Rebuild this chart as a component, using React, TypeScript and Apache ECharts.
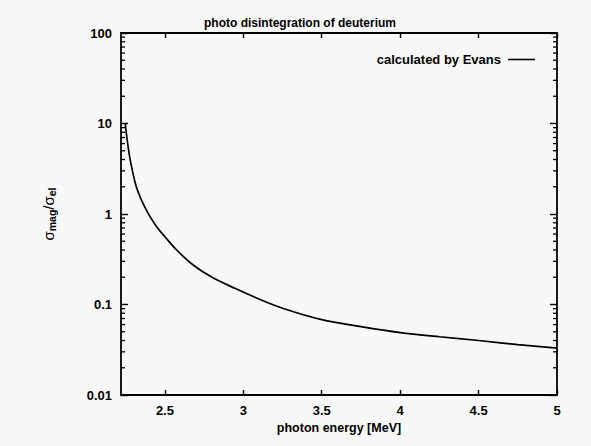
import React, { useEffect, useRef } from "react";
import * as echarts from "echarts";

const photonEnergy = [2.247, 2.254, 2.265, 2.275, 2.296, 2.317, 2.349, 2.381, 2.413, 2.456, 2.5, 2.575, 2.68, 2.8, 2.95, 3.1, 3.25, 3.5, 3.75, 4.0, 4.25, 4.5, 4.75, 5.0];
const ratioValues = [10.1, 7.8, 5.6, 4.3, 2.83, 2.01, 1.44, 1.11, 0.89, 0.69, 0.56, 0.4, 0.273, 0.2, 0.15, 0.115, 0.091, 0.068, 0.057, 0.049, 0.044, 0.04, 0.036, 0.033];
const xTickValues = [2.5, 3, 3.5, 4, 4.5, 5];
const yTickValues = [0.01, 0.1, 1, 10, 100];
const minorMultipliers = [2, 3, 4, 5, 6, 7, 8, 9];
const decades = [0.01, 0.1, 1, 10];

const X_MIN = 2.22;
const X_MAX = 5;
const FONT = '"Liberation Sans", Arial, Helvetica, sans-serif';

export default function App() {
  const ref = useRef<HTMLDivElement>(null);
  useEffect(() => {
    if (!ref.current) return;
    const chart = echarts.init(ref.current, null, { renderer: "svg" });
    const minorTicks: number[][] = [];
    decades.forEach((d) => minorMultipliers.forEach((m) => minorTicks.push([X_MIN, +(d * m).toPrecision(3)])));
    const lineData = photonEnergy.map((x, i) => [x, ratioValues[i]]);
    const axisLine = { show: true, lineStyle: { color: "#000", width: 1.8 } };
    const txt = { color: "#000", fontFamily: FONT, fontWeight: "bold" as const };
    chart.setOption({
      animation: false,
      backgroundColor: "#f8f8f8",
      textStyle: { fontFamily: FONT },
      title: {
        text: "photo disintegration of deuterium",
        left: 199,
        top: 12,
        textStyle: { ...txt, fontSize: 12 },
      },
      legend: {
        data: [{ name: "calculated by Evans", icon: "rect" }],
        right: 51,
        top: 48,
        align: "right",
        itemWidth: 27,
        itemHeight: 1.6,
        itemGap: 8,
        textStyle: { ...txt, fontSize: 13, padding: [0, 2, 0, 0] },
      },
      grid: { left: 121, right: 34, top: 33, bottom: 51, containLabel: false },
      xAxis: [
        {
          type: "value",
          min: X_MIN,
          max: X_MAX,
          name: "photon energy [MeV]",
          nameLocation: "middle",
          nameGap: 25,
          nameTextStyle: { ...txt, fontSize: 12.5 },
          axisLine,
          axisTick: { show: true, inside: true, length: 5, customValues: xTickValues, lineStyle: { color: "#000", width: 1.4 } },
          axisLabel: { ...txt, customValues: xTickValues, fontSize: 13, margin: 9 },
          splitLine: { show: false },
        },
        {
          type: "value",
          min: X_MIN,
          max: X_MAX,
          position: "top",
          axisLine,
          axisTick: { show: true, inside: true, length: 5, customValues: xTickValues, lineStyle: { color: "#000", width: 1.4 } },
          axisLabel: { show: false },
          splitLine: { show: false },
        },
      ],
      yAxis: [
        {
          type: "log",
          logBase: 10,
          min: 0.01,
          max: 100,
          name: "{m|σ}{s|mag}{m|/σ}{s|el}",
          nameLocation: "middle",
          nameRotate: 90,
          nameGap: 64,
          nameTextStyle: {
            ...txt,
            fontSize: 15,
            fontWeight: "normal",
            rich: {
              m: { color: "#000", fontFamily: FONT, fontSize: 15 },
              s: { ...txt, fontSize: 10.5, verticalAlign: "bottom", padding: [7, 0, 0, 0] },
            },
          },
          axisLine,
          axisTick: { show: true, inside: true, length: 7, customValues: yTickValues, lineStyle: { color: "#000", width: 1.4 } },
          axisLabel: {
            ...txt,
            customValues: yTickValues,
            fontSize: 13,
            margin: 9,
            formatter: (v: number) => String(v),
          },
          splitLine: { show: false },
        },
        {
          type: "log",
          logBase: 10,
          min: 0.01,
          max: 100,
          position: "right",
          axisLine,
          axisTick: { show: true, inside: true, length: 7, customValues: yTickValues, lineStyle: { color: "#000", width: 1.4 } },
          axisLabel: { show: false },
          splitLine: { show: false },
        },
      ],
      series: [
        {
          name: "calculated by Evans",
          type: "line",
          data: lineData,
          smooth: 0.3,
          symbol: "none",
          lineStyle: { color: "#000", width: 1.7 },
          itemStyle: { color: "#000" },
        },
        {
          name: "minor",
          type: "custom",
          silent: true,
          clip: false,
          data: minorTicks,
          renderItem: (params: any, api: any) => {
            const v = api.value(1);
            const pl = api.coord([X_MIN, v]);
            const pr = api.coord([X_MAX, v]);
            const st = { stroke: "#000", lineWidth: 1.3 };
            return {
              type: "group",
              children: [
                { type: "line", shape: { x1: pl[0], y1: pl[1], x2: pl[0] + 4, y2: pl[1] }, style: st },
                { type: "line", shape: { x1: pr[0] - 4, y1: pr[1], x2: pr[0], y2: pr[1] }, style: st },
              ],
            };
          },
        },
      ],
    });
    return () => chart.dispose();
  }, []);
  return <div ref={ref} style={{ position: "fixed", left: 0, top: 0, width: 591, height: 446 }} />;
}
